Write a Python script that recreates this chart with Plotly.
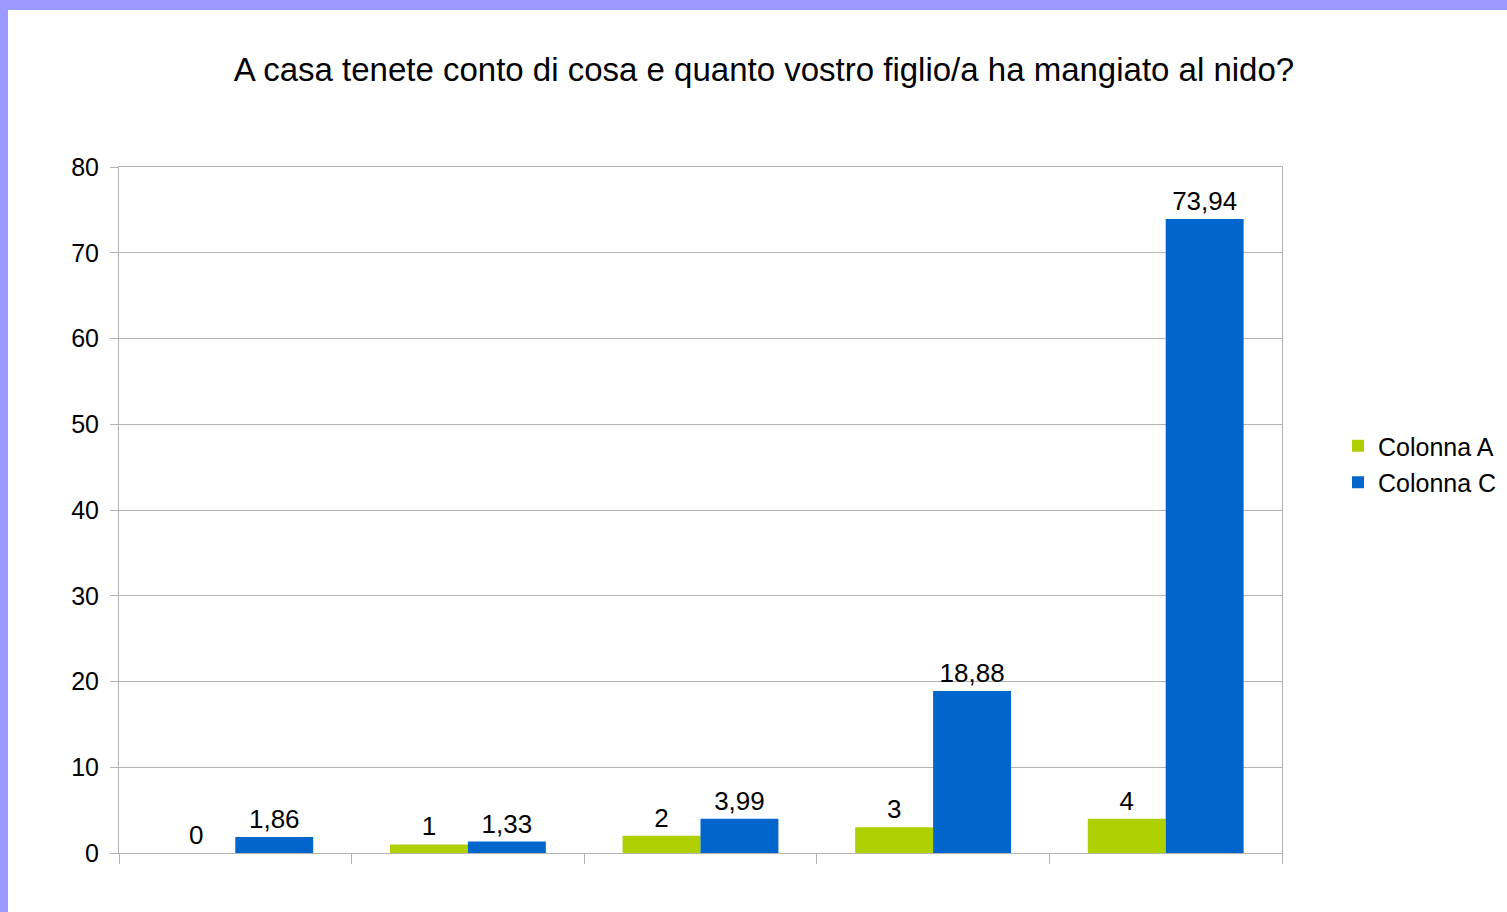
import plotly.graph_objects as go

categories = ["0", "1", "2", "3", "4"]
colonna_a = [0, 1, 2, 3, 4]
colonna_c = [1.86, 1.33, 3.99, 18.88, 73.94]
y_ticks = [0, 10, 20, 30, 40, 50, 60, 70, 80]
title_text = "A casa tenete conto di cosa e quanto vostro figlio/a ha mangiato al nido?"

def fmt(v):
    s = ("%g" % v)
    return s.replace(".", ",")

W, H = 1507, 912
L, R, T, B = 119, 225, 167, 59
pw, ph = W - L - R, H - T - B

FONT = "Liberation Sans, Arial, sans-serif"
GRID = "#b3b3b3"

fig = go.Figure()
fig.add_trace(go.Bar(
    name="Colonna A", x=categories, y=colonna_a,
    marker=dict(color="#aecf00", line=dict(width=0)),
    text=[fmt(v) for v in colonna_a], textposition="outside",
    textfont=dict(size=26, color="#000000", family=FONT),
    cliponaxis=False, legendgroup="a",
))
fig.add_trace(go.Bar(
    name="Colonna C", x=categories, y=colonna_c,
    marker=dict(color="#0066cc", line=dict(width=0)),
    text=[fmt(v) for v in colonna_c], textposition="outside",
    textfont=dict(size=26, color="#000000", family=FONT),
    cliponaxis=False, legendgroup="c",
))

# decorative frame on top and left edges of the page
shapes = [
    dict(type="rect", xref="paper", yref="paper",
         x0=-L / pw, x1=(W - L) / pw, y0=1 + (T - 10) / ph, y1=1 + T / ph,
         fillcolor="#9999ff", line=dict(width=0), layer="above"),
    dict(type="rect", xref="paper", yref="paper",
         x0=-L / pw, x1=(8 - L) / pw, y0=-B / ph, y1=1 + T / ph,
         fillcolor="#9999ff", line=dict(width=0), layer="above"),
]

fig.update_layout(
    width=W, height=H,
    margin=dict(l=L, r=R, t=T, b=B, pad=0, autoexpand=False),
    paper_bgcolor="white", plot_bgcolor="white",
    font=dict(family=FONT, color="#000000", size=25),
    title=dict(text=title_text, x=764 / W, xanchor="center", xref="container",
               y=1 - 69 / H, yanchor="middle", yref="container",
               font=dict(size=33, family=FONT, color="#000000")),
    barmode="group", bargap=0.33, bargroupgap=0,
    showlegend=True,
    legend=dict(x=(1338 - L) / pw, xanchor="left", y=(853 - 464) / ph, yanchor="middle",
                font=dict(size=25, family=FONT), tracegroupgap=1,
                traceorder="grouped", bgcolor="rgba(0,0,0,0)"),
    xaxis=dict(type="category", showticklabels=False, ticks="outside", tickson="boundaries",
               ticklen=10, tickcolor=GRID, showline=True, linecolor=GRID, mirror=True,
               showgrid=False, zeroline=False),
    yaxis=dict(range=[0, 80], tickvals=y_ticks, ticks="outside", ticklen=8, tickcolor=GRID,
               showline=True, linecolor=GRID, mirror=True, showgrid=True, gridcolor=GRID,
               zeroline=False, tickfont=dict(size=25, family=FONT), ticklabelstandoff=6),
    shapes=shapes,
)

fig.write_html("out.html", config={"displayModeBar": False},
               post_script="document.body.style.margin='0';document.body.style.overflow='hidden';")
